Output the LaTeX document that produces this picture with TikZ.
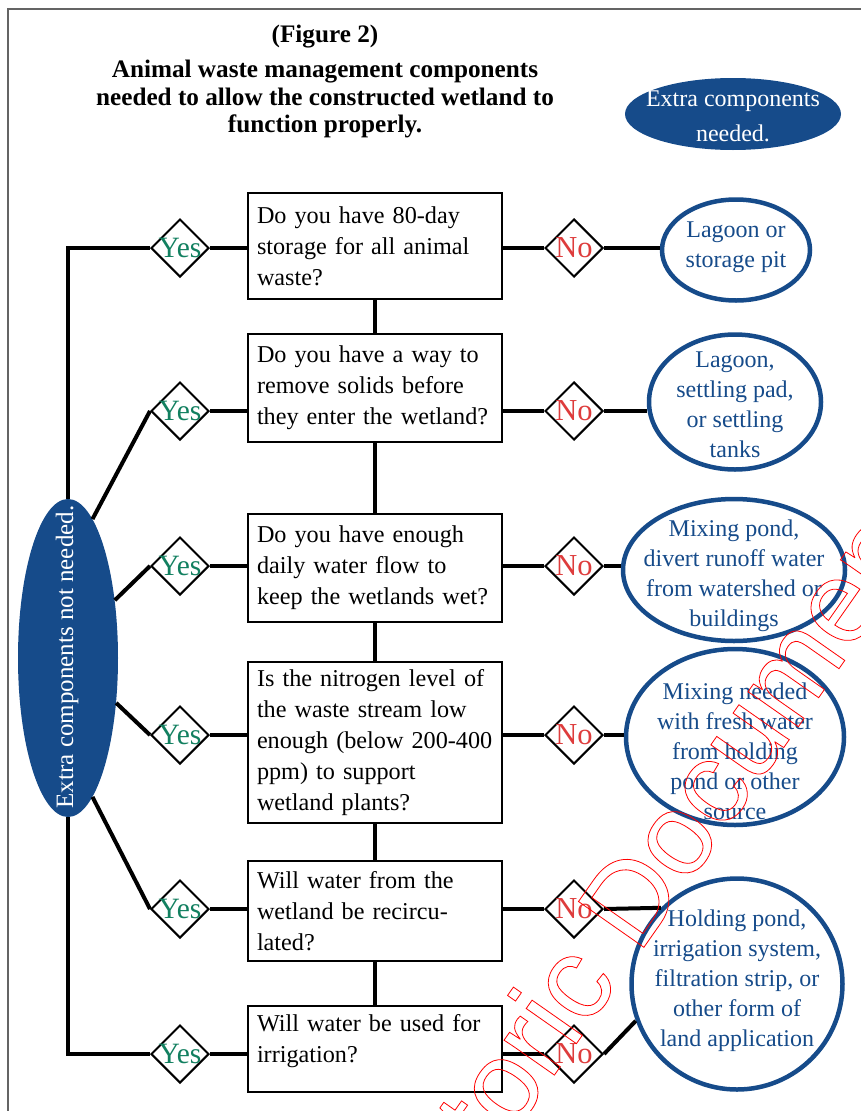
\documentclass[tikz,border=0pt]{standalone}
\usepackage{fontspec}
\setmainfont{Liberation Serif}
\newfontfamily\wmfont{Liberation Sans}
\usetikzlibrary{shapes.geometric}
\definecolor{dblue}{RGB}{22,75,138}
\definecolor{ygreen}{RGB}{18,128,96}
\definecolor{nred}{RGB}{222,60,60}
\definecolor{framegray}{RGB}{100,100,100}
\tikzset{
  qbox/.style={draw, line width=2.5pt, rectangle, text width=236pt, inner xsep=9pt, inner ysep=0pt,
    align=left, font=\fontsize{24.2}{31}\selectfont},
  dmd/.style={draw, line width=2pt, diamond, minimum width=58pt, minimum height=58pt, inner sep=0pt, fill=white},
  link/.style={line width=4pt},
  yeslbl/.style={text=ygreen, font=\fontsize{29.5}{29.5}\selectfont, inner sep=0pt},
  nolbl/.style={text=nred, font=\fontsize{30.5}{30.5}\selectfont, inner sep=0pt},
  outell/.style={ellipse, draw=dblue, line width=4.5pt, fill=white, inner sep=0pt},
  outtxt/.style={text=dblue, align=center, font=\fontsize{24}{30}\selectfont, inner sep=0pt},
  titleline/.style={font=\bfseries\fontsize{25.2}{27}\selectfont, anchor=base, inner sep=0pt},
}
\begin{document}
\begin{tikzpicture}[x=1pt,y=-1pt]
\useasboundingbox (0,0) rectangle (861,1111);
\draw[framegray, line width=1.3pt] (8,1111) -- (8,9) -- (861,9);

% title
\node[titleline] (fig) at (325,42) {(Figure 2)};
\node[titleline] (t1) at (325,77.5) {Animal waste management components};
\node[titleline] (t2) at (325,105) {needed to allow the constructed wetland to};
\node[titleline] (t3) at (325,132.5) {function properly.};

% legend ellipse
\node[ellipse, fill=dblue, minimum width=216pt, minimum height=72pt, inner sep=0pt] (xneed) at (733,114) {};
\node[text=white, align=center, font=\fontsize{24}{35}\selectfont, inner sep=0pt] (xneedt) at (733,116) {Extra components\\needed.};

% question boxes
\node[qbox, minimum height=106pt] (b1) at (375,246) {Do you have 80-day\\storage for all animal\\waste?};
\node[qbox, minimum height=108pt] (b2) at (375,388) {Do you have a way to\\remove solids before\\they enter the wetland?};
\node[qbox, minimum height=108pt] (b3) at (375,568) {Do you have enough\\daily water flow to\\keep the wetlands wet?};
\node[qbox, minimum height=161pt] (b4) at (375,742.5) {Is the nitrogen level of\\the waste stream low\\enough (below 200-400\\ppm) to support\\wetland plants?};
\node[qbox, minimum height=100pt] (b5) at (375,911) {Will water from the\\wetland be recircu-\\lated?};
\node[qbox, minimum height=86pt] (b6) at (375,1049) {Will water be used for\\irrigation?\\[-9pt]\mbox{}};

% left ellipse
\node[ellipse, fill=dblue, minimum width=100pt, minimum height=318pt, inner sep=0pt] (xnot) at (68,658) {};
\node[rotate=90, text=white, font=\fontsize{25}{25}\selectfont, inner sep=0pt] (xnott) at (67,657) {Extra components not needed.};

% right ellipses
\node[outell, minimum width=148pt, minimum height=101pt] (e1) at (736,250) {};
\node[outtxt] (e1t) at (736,247) {Lagoon or\\storage pit};
\node[outell, minimum width=172pt, minimum height=135pt] (e2) at (735,402) {};
\node[outtxt] (e2t) at (735,405) {Lagoon,\\settling pad,\\or settling\\tanks};
\node[outell, minimum width=222pt, minimum height=142pt] (e3) at (734,570) {};
\node[outtxt] (e3t) at (734,576) {Mixing pond,\\divert runoff water\\from watershed or\\buildings};
\node[outell, minimum width=218pt, minimum height=176pt] (e4) at (735,737) {};
\node[outtxt] (e4t) at (735,751) {Mixing needed\\with fresh water\\from holding\\pond or other\\source};
\node[outell, minimum width=211pt, minimum height=211pt] (e5) at (737,984) {};
\node[outtxt] (e5t) at (737,981) {Holding pond,\\irrigation system,\\filtration strip, or\\other form of\\land application};

% vertical links between boxes
\draw[link] (b1) -- (b2);
\draw[link] (b2) -- (b3);
\draw[link] (b3) -- (b4);
\draw[link] (b4) -- (b5);
\draw[link] (b5) -- (b6);

% diamonds and their links to the boxes
\foreach \i/\y in {1/248, 2/411, 3/566, 4/735, 5/909, 6/1054}{
  \node[dmd] (y\i) at (180,\y) {};
  \node[yeslbl] (y\i t) at (y\i) {Yes};
  \node[dmd] (n\i) at (574,\y) {};
  \node[nolbl] (n\i t) at (n\i) {No};
  \draw[link] (y\i.east) -- (y\i.east -| b\i.west);
  \draw[link] (n\i.west) -- (n\i.west -| b\i.east);
}

% links from No diamonds to the components
\draw[link] (n1.east) -- (n1.east -| e1.west);
\draw[link] (n2.east) -- (n2.east -| e2.west);
\draw[link] (n3.east) -- (n3.east -| e3.west);
\draw[link] (n4.east) -- (n4.east -| e4.west);
\draw[link] (n5.east) -- (e5.135);
\draw[link] (n6.east) -- (e5.200);

% links from left ellipse to Yes diamonds
\draw[link] (xnot.north) |- (y1.west);
\draw[link] (xnot.80) -- (y2.west);
\draw[link] (xnot.51) -- (y3.west);
\draw[link] (xnot.-43) -- (y4.west);
\draw[link] (xnot.-80) -- (y5.west);
\draw[link] (xnot.south) |- (y6.west);

% watermark
\begin{scope}
\clip (8,9) rectangle (861,1111);
\node[rotate=55, anchor=base, inner sep=0pt, text=red, font=\wmfont\fontsize{116}{116}\selectfont] (wm) at (670,910)
  {\special{pdf:literal direct 1 Tr 0.8 w 1 0 0 RG}Historic Document\special{pdf:literal direct 0 Tr}};
\end{scope}
\end{tikzpicture}
\end{document}
